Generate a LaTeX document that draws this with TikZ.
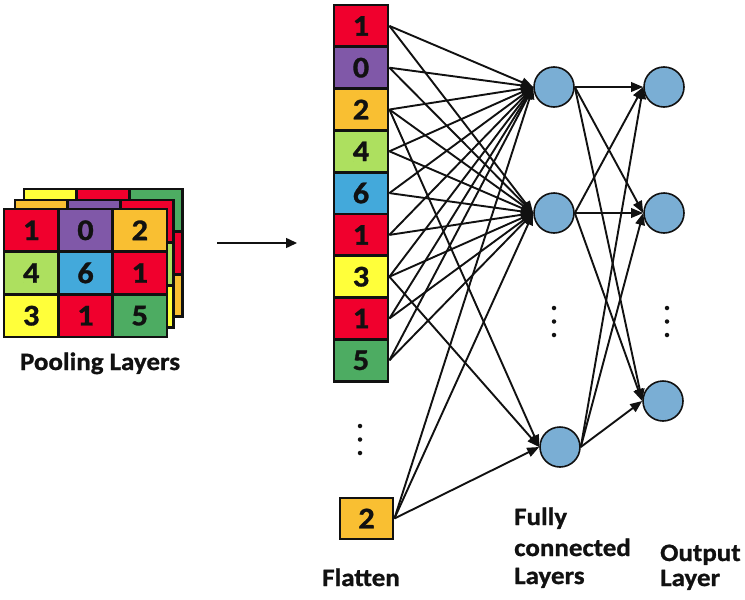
\documentclass[tikz,border=0pt]{standalone}
\usepackage{fontspec}
\setmainfont{Carlito}[FakeStretch=1.08, BoldFeatures={FakeBold=1}]
\usetikzlibrary{arrows.meta}
\definecolor{ink}{HTML}{111111}
\definecolor{cred}{HTML}{F0002D}
\definecolor{cpur}{HTML}{8058A8}
\definecolor{corg}{HTML}{F9BF32}
\definecolor{clgr}{HTML}{ADE05F}
\definecolor{cblu}{HTML}{43A9DB}
\definecolor{cyel}{HTML}{FFFF3A}
\definecolor{cgrn}{HTML}{4DAC62}
\definecolor{cnode}{HTML}{7AAED4}
\newcommand\digitfont{\fontsize{30}{31}\selectfont\bfseries}
\newcommand\lblfont{\fontsize{25}{27}\selectfont\bfseries}
\begin{document}
\begin{tikzpicture}[x=1pt,y=-1pt,
  cellbox/.style={draw=ink, line width=2.8pt, minimum width=54pt, minimum height=41.8pt, inner sep=0pt, font=\digitfont, text=ink},
  backcell/.style={draw=ink, line width=2.8pt, minimum width=52.7pt, minimum height=42.6pt, inner sep=0pt},
  neuron/.style={circle, draw=ink, line width=1.6pt, fill=cnode, minimum size=40pt, inner sep=0pt},
  conn/.style={draw=ink, line width=1.9pt, -{Triangle[length=12pt,width=9.5pt]}},
  dotn/.style={circle, fill=ink, inner sep=0pt, minimum size=4.5pt},
  lbl/.style={anchor=base west, font=\lblfont, text=ink, inner sep=0pt}]
\useasboundingbox (0,0) rectangle (745,600);

% ---- pooling layers: third (back) layer
\foreach \r/\cola/\colb/\colc in {1/cyel/cred/cgrn, 2/corg/cblu/cred, 3/clgr/cpur/corg}{
  \node[backcell, fill=\cola] (pc-\r-1) at (24+26.35, 189+21.3+42.6*\r-42.6) {};
  \node[backcell, fill=\colb] (pc-\r-2) at (24+26.35+52.7, 189+21.3+42.6*\r-42.6) {};
  \node[backcell, fill=\colc] (pc-\r-3) at (24+26.35+105.4, 189+21.3+42.6*\r-42.6) {};
}
% ---- second layer
\foreach \r/\cola/\colb/\colc in {1/corg/cpur/cred, 2/cred/cyel/clgr, 3/cgrn/cblu/cyel}{
  \node[backcell, fill=\cola] (pb-\r-1) at (15+26.35, 200+21.3+42.6*\r-42.6) {};
  \node[backcell, fill=\colb] (pb-\r-2) at (15+26.35+52.7, 200+21.3+42.6*\r-42.6) {};
  \node[backcell, fill=\colc] (pb-\r-3) at (15+26.35+105.4, 200+21.3+42.6*\r-42.6) {};
}
% ---- front layer
\begin{scope}[every node/.style={cellbox, minimum width=54.3pt, minimum height=42.7pt}]
\node[fill=cred] (pa-1-1) at (31.2,230.3) {1};
\node[fill=cpur] (pa-1-2) at (85.5,230.3) {0};
\node[fill=corg] (pa-1-3) at (139.8,230.3) {2};
\node[fill=clgr] (pa-2-1) at (31.2,273.0) {4};
\node[fill=cblu] (pa-2-2) at (85.5,273.0) {6};
\node[fill=cred] (pa-2-3) at (139.8,273.0) {1};
\node[fill=cyel] (pa-3-1) at (31.2,315.7) {3};
\node[fill=cred] (pa-3-2) at (85.5,315.7) {1};
\node[fill=cgrn] (pa-3-3) at (139.8,315.7) {5};
\end{scope}
\node[anchor=base, font=\lblfont, text=ink, inner sep=0pt] (plbl) at (100,370) {Pooling Layers};

% ---- arrow pooling -> flatten
\coordinate (a0) at (217,243);
\coordinate (a1) at (297,243);
\draw[draw=ink, line width=1.5pt, -{Triangle[length=11pt,width=10pt]}] (a0) -- (a1);

% ---- flatten column
\node[cellbox, fill=cred] (c1) at (361,25.9) {1};
\node[cellbox, fill=cpur] (c2) at (361,67.7) {0};
\node[cellbox, fill=corg] (c3) at (361,109.5) {2};
\node[cellbox, fill=clgr] (c4) at (361,151.3) {4};
\node[cellbox, fill=cblu] (c5) at (361,193.1) {6};
\node[cellbox, fill=cred] (c6) at (361,234.9) {1};
\node[cellbox, fill=cyel] (c7) at (361,276.7) {3};
\node[cellbox, fill=cred] (c8) at (361,318.5) {1};
\node[cellbox, fill=cgrn] (c9) at (361,360.3) {5};
\node[cellbox, fill=corg, minimum width=53pt, minimum height=41pt] (b) at (366.5,518.5) {2};
\node[dotn] (fd1) at (360,426) {};
\node[dotn] (fd2) at (360,439.5) {};
\node[dotn] (fd3) at (360,453) {};
\node[anchor=base, font=\lblfont, text=ink, inner sep=0pt] (flbl) at (361,586) {Flatten};

% ---- fully connected and output neurons
\node[neuron] (f1) at (554,87) {};
\node[neuron] (f2) at (554,213) {};
\node[neuron] (f3) at (560,447) {};
\node[neuron] (o1) at (664,87) {};
\node[neuron] (o2) at (664,213) {};
\node[neuron] (o3) at (663,401) {};
\node[dotn] (hd1) at (554,308) {};
\node[dotn] (hd2) at (554,321.5) {};
\node[dotn] (hd3) at (554,335) {};
\node[dotn] (od1) at (667,308) {};
\node[dotn] (od2) at (667,321.5) {};
\node[dotn] (od3) at (667,335) {};

% ---- connections flatten -> fully connected
\foreach \i in {1,...,9}{
  \draw[conn] (c\i.east) -- (f1.west);
  \draw[conn] (c\i.east) -- (f2.west);
}
\draw[conn] (c3.east) -- (f3.west);
\draw[conn] (c7.east) -- (f3.west);
\draw[conn] (b.east) -- (f1.west);
\draw[conn] (b.east) -- (f2.west);
\draw[conn] (b.east) -- (f3.west);

% ---- fully connected -> output
\foreach \i in {1,2,3}{
  \foreach \j in {1,2,3}{
    \draw[conn] (f\i.east) -- (o\j.west);
  }
}

% ---- labels
\node[lbl] (l1) at (514,525) {Fully};
\node[lbl] (l2) at (514,556) {connected};
\node[lbl] (l3) at (514,584) {Layers};
\node[lbl] (l4) at (660,561) {Output};
\node[lbl] (l5) at (660,586) {Layer};
\end{tikzpicture}
\end{document}
